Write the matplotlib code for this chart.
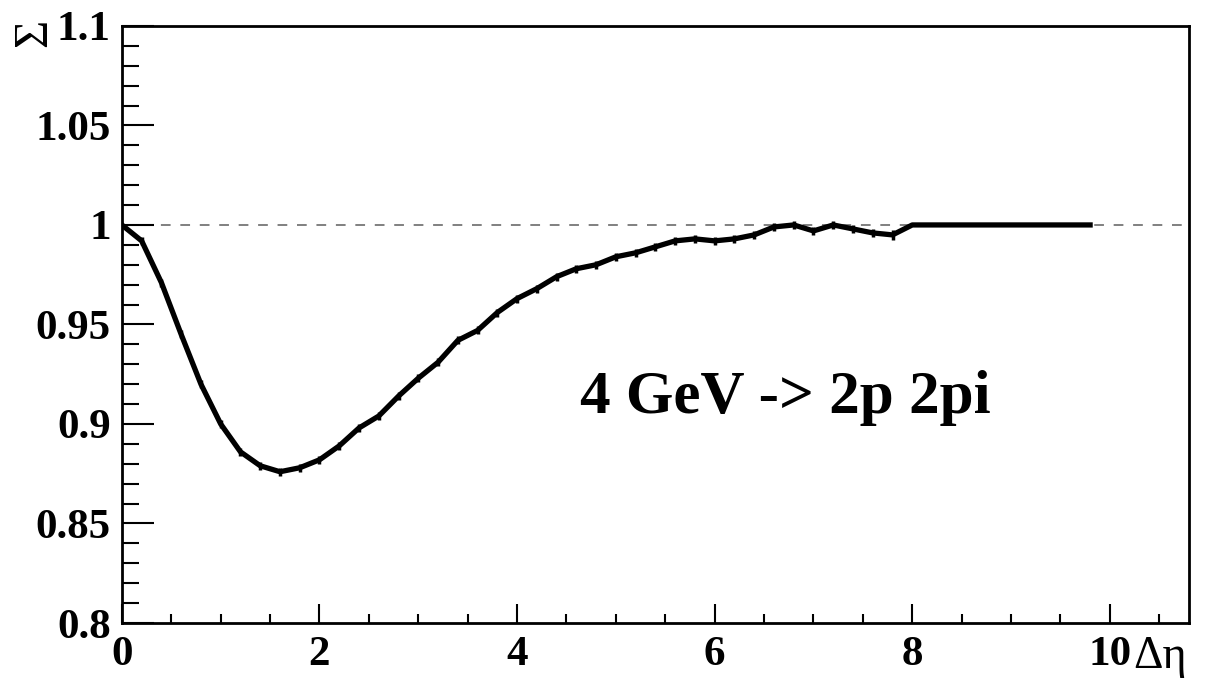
import matplotlib.pyplot as plt
import numpy as np
from matplotlib.ticker import MultipleLocator

# delta-eta bin centres and the ratio measured in each bin
deta = [0.0, 0.2, 0.4, 0.6, 0.8, 1.0, 1.2, 1.4, 1.6, 1.8,
        2.0, 2.2, 2.4, 2.6, 2.8, 3.0, 3.2, 3.4, 3.6, 3.8,
        4.0, 4.2, 4.4, 4.6, 4.8, 5.0, 5.2, 5.4, 5.6, 5.8,
        6.0, 6.2, 6.4, 6.6, 6.8, 7.0, 7.2, 7.4, 7.6, 7.8,
        8.0, 8.2, 8.4, 8.6, 8.8, 9.0, 9.2, 9.4, 9.6, 9.8]
sigma = [1.000, 0.992, 0.971, 0.945, 0.920, 0.900, 0.886, 0.879, 0.876, 0.878,
         0.882, 0.889, 0.898, 0.904, 0.914, 0.923, 0.931, 0.942, 0.947, 0.956,
         0.963, 0.968, 0.974, 0.978, 0.980, 0.984, 0.986, 0.989, 0.992, 0.993,
         0.992, 0.993, 0.995, 0.999, 1.000, 0.997, 1.000, 0.998, 0.996, 0.995,
         1.000, 1.000, 1.000, 1.000, 1.000, 1.000, 1.000, 1.000, 1.000, 1.000]
sigma_err = [0.0, 0.002, 0.002, 0.002, 0.002, 0.002, 0.002, 0.002, 0.002, 0.002,
             0.002, 0.002, 0.002, 0.002, 0.002, 0.002, 0.002, 0.002, 0.002, 0.002,
             0.002, 0.002, 0.002, 0.002, 0.002, 0.002, 0.002, 0.002, 0.002, 0.002,
             0.002, 0.002, 0.002, 0.002, 0.002, 0.002, 0.002, 0.002, 0.002, 0.0025,
             0.0, 0.0, 0.0, 0.0, 0.0, 0.0, 0.0, 0.0, 0.0, 0.0]

xticks = [0, 2, 4, 6, 8, 10]
xtick_labels = ['0', '2', '4', '6', '8', '10']
yticks = [0.8, 0.85, 0.9, 0.95, 1.0, 1.05, 1.1]
ytick_labels = ['0.8', '0.85', '0.9', '0.95', '1', '1.05', '1.1']

plt.rcParams['font.family'] = ['Liberation Serif', 'DejaVu Serif']

fig = plt.figure(figsize=(12.07, 6.82), dpi=100)
ax = fig.add_axes([0.101, 0.0865, 0.884, 0.8755])

ax.axhline(1.0, color='#808080', lw=1.4, ls=(0, (5, 5)), zorder=1)
ax.errorbar(deta, sigma, yerr=sigma_err, color='black', lw=3.8,
            elinewidth=2.5, capsize=0, zorder=3)

ax.set_xlim(0, 10.8)
ax.set_ylim(0.8, 1.1)
ax.xaxis.set_minor_locator(MultipleLocator(0.5))
ax.yaxis.set_minor_locator(MultipleLocator(0.01))

ax.tick_params(axis='x', which='major', direction='in', length=14, width=1.5,
               labelsize=31, pad=9)
ax.tick_params(axis='x', which='minor', direction='in', length=6.5, width=1.5)
ax.tick_params(axis='y', which='major', direction='in', length=23, width=1.5,
               labelsize=31, pad=8)
ax.tick_params(axis='y', which='minor', direction='in', length=12, width=1.5)
for s in ax.spines.values():
    s.set_linewidth(2)

ax.set_xticks(xticks)
ax.set_xticklabels(xtick_labels, fontweight='bold')
ax.set_yticks(yticks)
ax.set_yticklabels(ytick_labels, fontweight='bold')

fig.text(34 / 1207, 1 - 33 / 682, 'Σ', rotation=90, fontsize=35,
         ha='center', va='center')
fig.text(1133 / 1207, 1 - 657 / 682, 'Δη', fontsize=33,
         ha='left', va='center')

ax.text(6.72, 0.913, '4 GeV -> 2p 2pi', fontsize=44, fontweight='bold',
        ha='center', va='center')

fig.savefig('out.png', dpi=100)
